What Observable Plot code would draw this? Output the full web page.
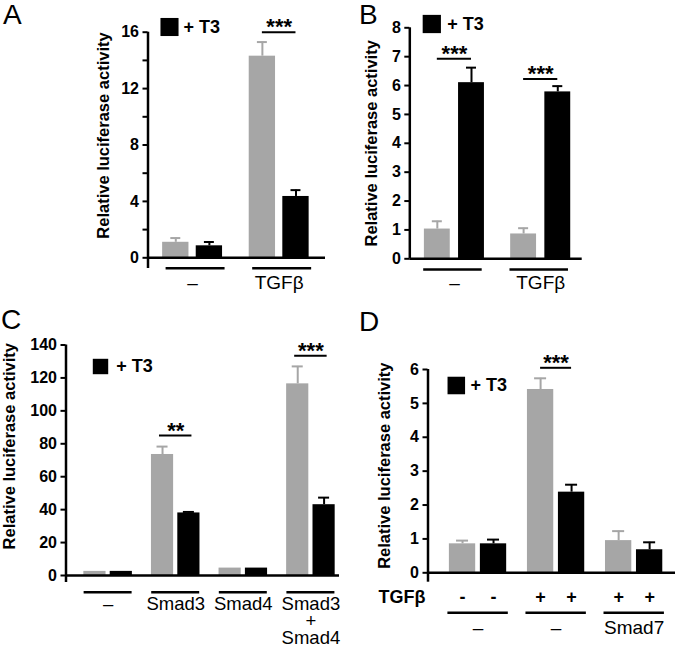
<!DOCTYPE html>
<html><head><meta charset="utf-8">
<script src="https://cdn.jsdelivr.net/npm/d3@7"></script>
<script src="https://cdn.jsdelivr.net/npm/@observablehq/plot@0.6"></script>
<style>
body{margin:0;background:#fff;}
#fig{position:relative;width:677px;height:649px;font-family:"Liberation Sans",Arial,sans-serif;overflow:hidden;}
.panel{position:absolute;}
.letter{position:absolute;font-size:28px;line-height:28px;color:#000;}
</style></head><body><div id="fig"></div>
<script>
const seriesNames = ["control", "+ T3"];
const yLabelText = "Relative luciferase activity";

// Panel A
const aGroups = ["–", "TGFβ"];
const aControl = [1.1, 14.3];
const aControlSem = [0.3, 1.0];
const aT3 = [0.85, 4.35];
const aT3Sem = [0.27, 0.45];
const aTicks = [0, 2, 4, 6, 8, 10, 12, 14, 16];
const aTickLabels = ["0", "", "4", "", "8", "", "12", "", "16"];
const aSig = [{group: 1, level: 16, label: "***"}];

// Panel B
const bGroups = ["–", "TGFβ"];
const bControl = [1.03, 0.86];
const bControlSem = [0.27, 0.2];
const bT3 = [6.1, 5.78];
const bT3Sem = [0.52, 0.2];
const bTicks = [0, 1, 2, 3, 4, 5, 6, 7, 8];
const bTickLabels = ["0", "1", "2", "3", "4", "5", "6", "7", "8"];
const bSig = [{group: 0, level: 6.93, label: "***"}, {group: 1, level: 6.23, label: "***"}];

// Panel C
const cGroups = ["–", "Smad3", "Smad4", "Smad3\n+\nSmad4"];
const cControl = [2.5, 73.5, 4.5, 116.4];
const cControlSem = [0, 4.8, 0, 10.6];
const cT3 = [2.5, 38, 4.5, 43];
const cT3Sem = [0, 0.6, 0, 4.3];
const cTicks = [0, 20, 40, 60, 80, 100, 120, 140];
const cTickLabels = ["0", "20", "40", "60", "80", "100", "120", "140"];
const cSig = [{group: 1, level: 85, label: "**"}, {group: 3, level: 133.5, label: "***"}];

// Panel D
const dGroups = ["–", "–", "Smad7"];
const dTgfSign = ["-", "+", "+"];
const dTgfLabel = "TGFβ";
const dControl = [0.855, 5.41, 0.95];
const dControlSem = [0.095, 0.33, 0.28];
const dT3 = [0.855, 2.38, 0.68];
const dT3Sem = [0.125, 0.22, 0.22];
const dTicks = [0, 1, 2, 3, 4, 5, 6];
const dTickLabels = ["0", "1", "2", "3", "4", "5", "6"];
const dSig = [{group: 1, level: 6.05, label: "***"}];

const GRAY = "#a6a6a6";
const fig = document.getElementById("fig");

function makePanel(cfg) {
  const bars = [];
  cfg.groups.forEach((g, i) => {
    bars.push({group: i, s: 0, value: cfg.control[i], sem: cfg.controlSem[i]});
    bars.push({group: i, s: 1, value: cfg.t3[i], sem: cfg.t3Sem[i]});
  });
  const xc = b => b.group + (b.s ? cfg.d / 2 : -cfg.d / 2);
  const gi = cfg.groups.map((_, i) => i);
  const tickMap = new Map(cfg.ticks.map((t, i) => [t, cfg.tickLabels[i]]));
  const pad = cfg.sigPad || 0;
  const marks = [];
  [[bars.filter(b => b.s === 0), GRAY], [bars.filter(b => b.s === 1), "black"]].forEach(([data, color]) => {
    const e = data.filter(b => b.sem > 0);
    marks.push(
      Plot.ruleX(e, {x: xc, y1: "value", y2: b => b.value + b.sem, stroke: color, strokeWidth: 2}),
      Plot.ruleY(e, {y: b => b.value + b.sem, x1: b => xc(b) - cfg.cap / 2, x2: b => xc(b) + cfg.cap / 2, stroke: color, strokeWidth: 2}),
      Plot.rect(data, {x1: b => xc(b) - cfg.w / 2, x2: b => xc(b) + cfg.w / 2, y1: 0, y2: "value", fill: color})
    );
  });
  marks.push(
    Plot.ruleY([0], {strokeWidth: 2.5}),
    Plot.ruleX([cfg.xDomain[0]], {strokeWidth: 2.5, insetBottom: -cfg.yExt}),
    Plot.axisY(cfg.ticks, {tickSize: 5, tickPadding: 4, tickFormat: t => tickMap.get(t), strokeWidth: 2, label: null}),
    Plot.text([yLabelText], {frameAnchor: "left", rotate: -90, textAnchor: "middle", lineAnchor: "middle", dx: cfg.yl[0], dy: cfg.yl[1], fontSize: 16.5, fontWeight: "bold"}),
    Plot.ruleY(gi, {y: 0, x1: i => i + cfg.ul[0], x2: i => i + cfg.ul[1], dy: cfg.ulDy, strokeWidth: 2.5}),
    Plot.text(gi, {x: i => i, y: 0, text: i => cfg.groups[i], dy: cfg.labelDy, lineAnchor: "top", fontSize: cfg.labelSize || 19, fontWeight: "normal", lineHeight: cfg.lineHeight || 1}),
    Plot.ruleY(cfg.sig, {y: "level", x1: s => s.group - cfg.d / 2 - pad, x2: s => s.group + cfg.d / 2 + pad, strokeWidth: 2}),
    Plot.text(cfg.sig, {x: "group", y: "level", text: "label", lineAnchor: "bottom", dy: 2, fontSize: 22, fontWeight: "bold"}),
    Plot.dot([0], {frameAnchor: "top-left", dx: cfg.leg[0], dy: cfg.leg[1], symbol: "square", r: cfg.leg[2], fill: "black"}),
    Plot.text([seriesNames[1]], {frameAnchor: "top-left", dx: cfg.leg[3], dy: cfg.leg[1], textAnchor: "start", lineAnchor: "middle", fontSize: 18, fontWeight: "bold"})
  );
  if (cfg.extra) marks.push(...cfg.extra(bars, xc));
  const svg = Plot.plot({
    width: cfg.width, height: cfg.height,
    marginLeft: cfg.m[0], marginRight: cfg.m[1], marginTop: cfg.m[2], marginBottom: cfg.m[3],
    x: {domain: cfg.xDomain, axis: null},
    y: {domain: cfg.yDomain},
    style: {fontFamily: "'Liberation Sans', Arial, sans-serif", fontSize: "16px", fontWeight: "bold", overflow: "visible", background: "transparent", color: "black", maxWidth: "none"},
    marks
  });
  const wrap = document.createElement("div");
  wrap.className = "panel";
  wrap.style.left = cfg.left + "px";
  wrap.style.top = cfg.top + "px";
  wrap.appendChild(svg);
  fig.appendChild(wrap);
  const letter = document.createElement("div");
  letter.className = "letter";
  letter.textContent = cfg.letter;
  letter.style.left = cfg.letterPos[0] + "px";
  letter.style.top = cfg.letterPos[1] + "px";
  fig.appendChild(letter);
}

makePanel({
  letter: "A", letterPos: [3, 1],
  left: 0, top: 0, width: 340, height: 310, m: [147.5, 15, 31.7, 52.7],
  xDomain: [-0.515, 1.535], yDomain: [0, 16],
  groups: aGroups, control: aControl, controlSem: aControlSem, t3: aT3, t3Sem: aT3Sem,
  ticks: aTicks, tickLabels: aTickLabels, sig: aSig,
  d: 0.388, w: 0.304, cap: 0.115, ul: [-0.306, 0.375], ulDy: 10.4, labelDy: 17.7, yExt: 10.7,
  yl: [-44, -9.5], leg: [21.5, -5.2, 10.2, 35.5]
});

makePanel({
  letter: "B", letterPos: [359, 1],
  left: 340, top: 0, width: 337, height: 310, m: [69.3, 95.3, 27.3, 51.7],
  xDomain: [-0.517, 1.481], yDomain: [0, 8],
  groups: bGroups, control: bControl, controlSem: bControlSem, t3: bT3, t3Sem: bT3Sem,
  ticks: bTicks, tickLabels: bTickLabels, sig: bSig,
  d: 0.396, w: 0.30, cap: 0.116, ul: [-0.356, 0.322], ulDy: 10.7, labelDy: 16.7, yExt: 0,
  yl: [-38, 0], leg: [22, -3.8, 10.3, 37.4]
});

makePanel({
  letter: "C", letterPos: [1, 306],
  left: 0, top: 310, width: 340, height: 339, m: [65.5, 1, 34.5, 74],
  xDomain: [-0.623, 3.423], yDomain: [0, 140],
  groups: cGroups, control: cControl, controlSem: cControlSem, t3: cT3, t3Sem: cT3Sem,
  ticks: cTicks, tickLabels: cTickLabels, sig: cSig, sigPad: 0.045,
  d: 0.39, w: 0.328, cap: 0.163, ul: [-0.355, 0.355], ulDy: 16.7, labelDy: 22, yExt: 7, lineHeight: 0.93, labelSize: 18.5,
  yl: [-56, -14], leg: [34.5, 21.5, 8.7, 50.2]
});

makePanel({
  letter: "D", letterPos: [359, 308],
  left: 340, top: 310, width: 337, height: 339, m: [87.5, 2, 59, 76.7],
  xDomain: [-0.641, 2.53], yDomain: [0, 6],
  groups: dGroups, control: dControl, controlSem: dControlSem, t3: dT3, t3Sem: dT3Sem,
  ticks: dTicks, tickLabels: dTickLabels, sig: dSig,
  d: 0.397, w: 0.337, cap: 0.154, ul: [-0.386, 0.388], ulDy: 40, labelDy: 47.7, yExt: 9.4,
  yl: [-43.5, -5.5], leg: [28.3, 16, 9.9, 42.5],
  extra: (bars, xc) => [
    Plot.text(bars, {x: xc, y: 0, text: b => dTgfSign[b.group], dy: 17.7, lineAnchor: "top", fontSize: 18, fontWeight: "bold"}),
    Plot.text([dTgfLabel], {x: -0.641, y: 0, textAnchor: "end", dx: -2.5, dy: 17.7, lineAnchor: "top", fontSize: 18, fontWeight: "bold"})
  ]
});
</script></body></html>
